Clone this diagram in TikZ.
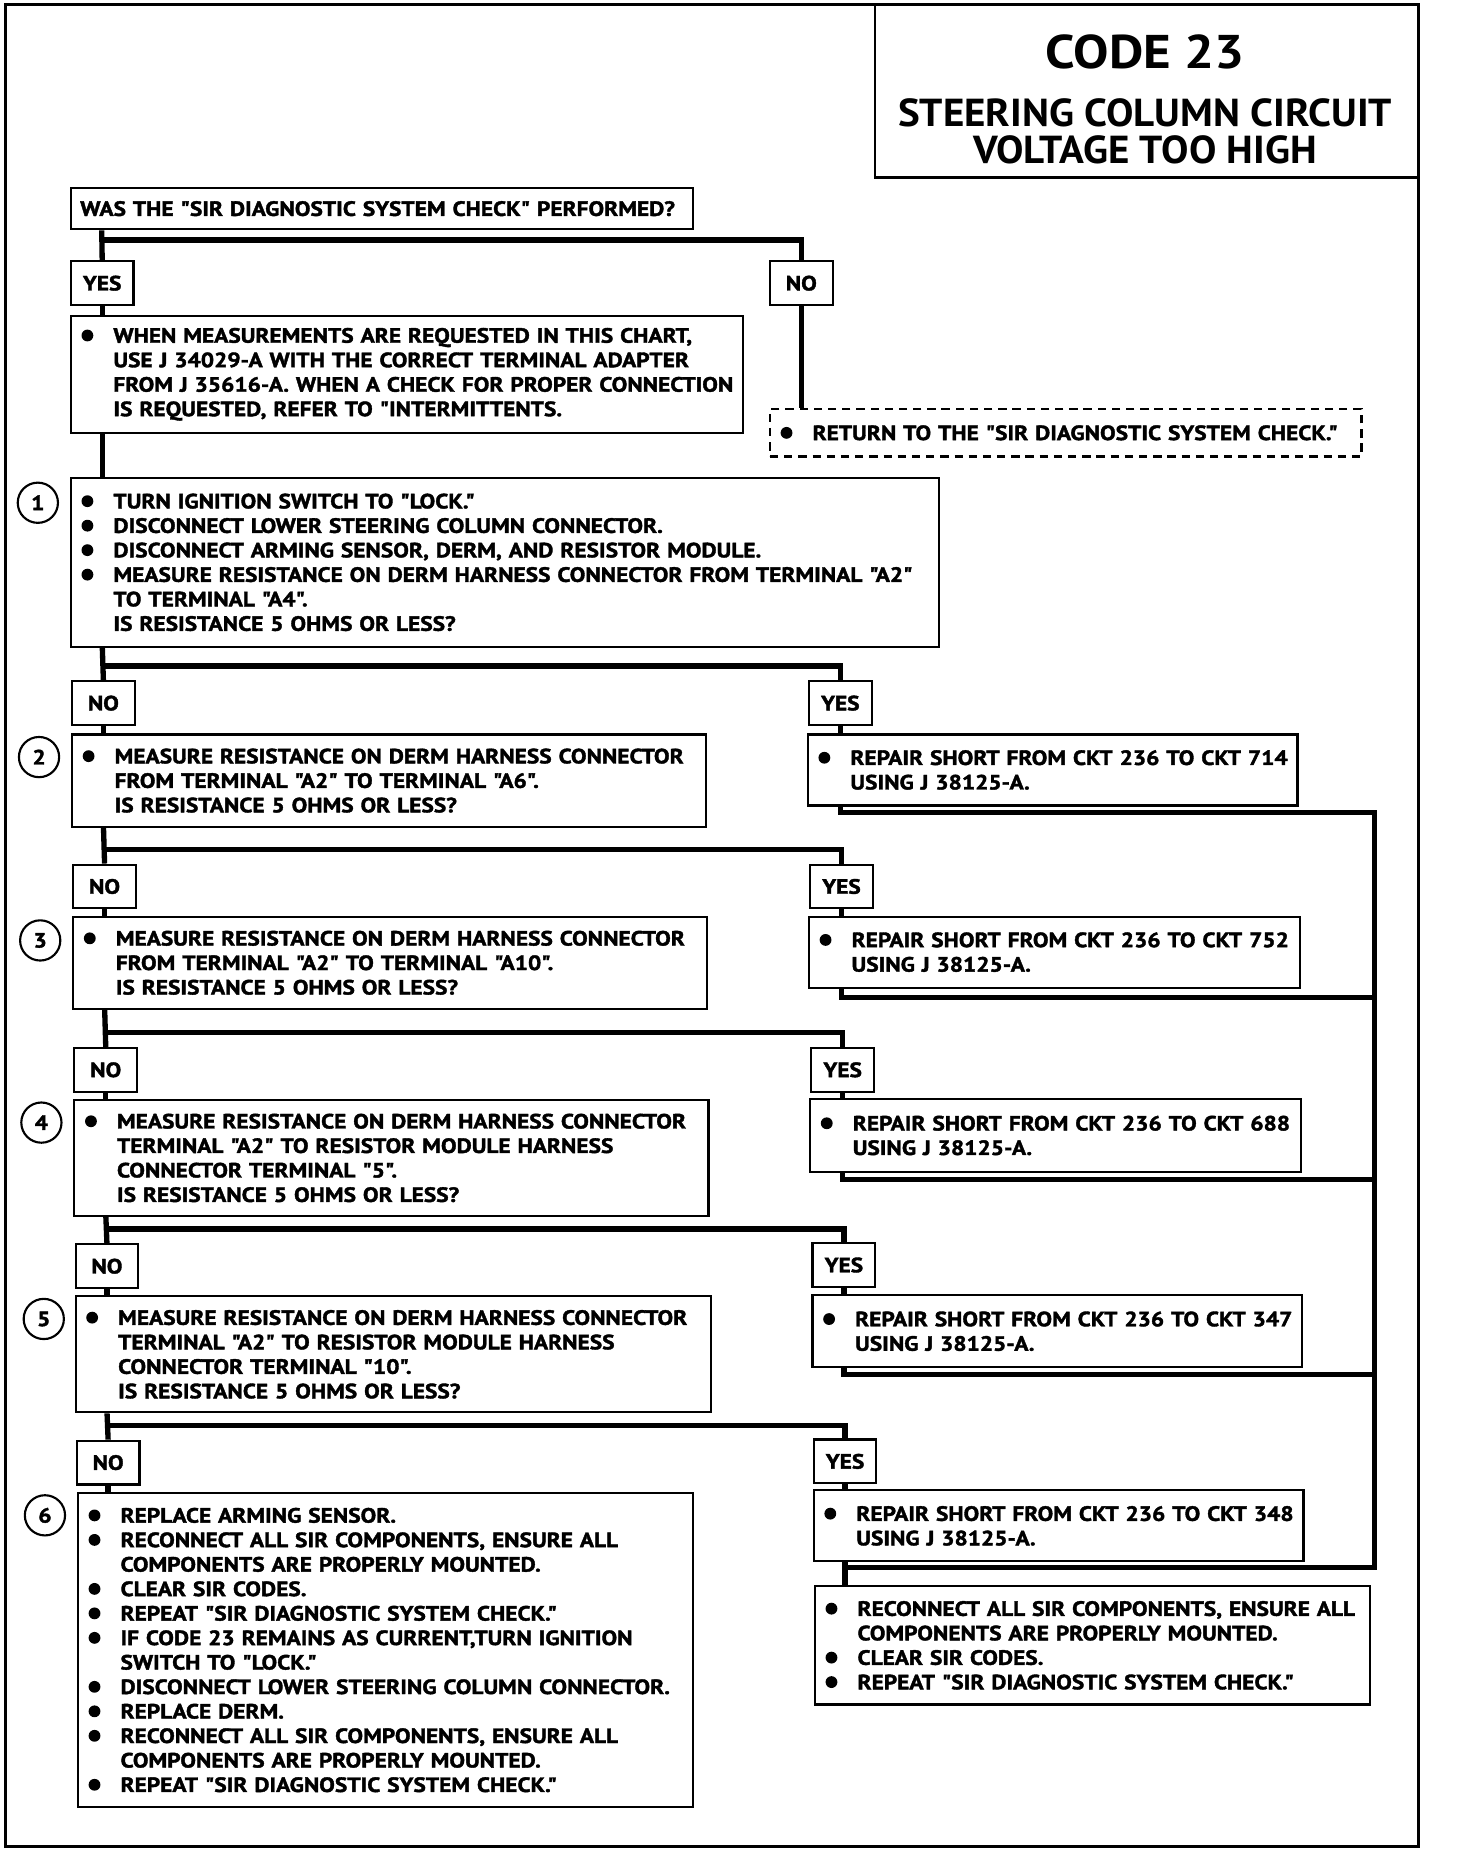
\documentclass[tikz,border=0pt]{standalone}
\usepackage{fontspec}
\setmainfont{PT Sans}
\newfontfamily\chartfamily[FakeStretch=1.13, BoldFeatures={FakeBold=1.8}]{PT Sans}
\newfontfamily\titlefamily[FakeStretch=1.05]{PT Sans}
\newfontfamily\codefamily[FakeStretch=1.12]{PT Sans}
\newcommand{\chartfont}{\chartfamily\fontsize{17.5}{20.7}\selectfont\bfseries}
\newcommand{\dotmark}{\tikz[baseline=0pt]\fill (4.5pt,6.1pt) circle[radius=5pt];}
\newcommand{\itm}[1]{\makebox[27pt][l]{\dotmark}\mbox{#1}}
\newcommand{\cnt}[1]{\hspace*{27pt}\mbox{#1}}
\tikzset{
  chartbox/.style={draw, line width=1.8pt, anchor=north west, inner xsep=9pt, inner ysep=0pt, align=left, font=\chartfont},
  dashbox/.style={chartbox, dash pattern=on 7pt off 5pt},
  answer/.style={draw, line width=1.8pt, anchor=north west, minimum width=53pt, minimum height=37pt, inner sep=0pt, font=\chartfont},
  stepnum/.style={draw, circle, line width=1.8pt, minimum size=34pt, inner sep=0pt, font=\chartfont},
  flow/.style={line width=4.5pt},
}
\begin{document}
\begin{tikzpicture}[x=1pt,y=-1pt]
\useasboundingbox (0,0) rectangle (1231,1569);
% Frame and title
\draw[line width=2.5pt] (5,4) rectangle (1199,1561);
\draw[line width=1.8pt] (740,4) |- (1199,150);
\node[font=\codefamily\fontsize{40}{44}\selectfont\bfseries] (code) at (968,44) {CODE 23};
\node[font=\titlefamily\fontsize{33}{32}\selectfont\bfseries, align=center] (title) at (968,111) {STEERING COLUMN CIRCUIT\\VOLTAGE TOO HIGH};
% Opening question
\node[chartbox, inner xsep=8pt, minimum height=35pt, text width=510pt] (q) at (59,158) {WAS THE "SIR DIAGNOSTIC SYSTEM CHECK" PERFORMED?};
\node[answer] (y0) at (59,220) {YES};
\node[answer] (n0) at (650,220) {NO};
\node[chartbox, minimum height=99pt, text width=550pt] (info) at (59,266) {\itm{WHEN MEASUREMENTS ARE REQUESTED IN THIS CHART,}\\\cnt{USE J 34029-A WITH THE CORRECT TERMINAL ADAPTER}\\\cnt{FROM J 35616-A. WHEN A CHECK FOR PROPER CONNECTION}\\\cnt{IS REQUESTED, REFER TO "INTERMITTENTS.}};
\node[dashbox, minimum height=40pt, text width=482pt] (ret) at (650,345) {\itm{RETURN TO THE "SIR DIAGNOSTIC SYSTEM CHECK."}};
% Step 1
\node[chartbox, minimum height=143pt, text width=716pt] (b1) at (59,403) {\itm{TURN IGNITION SWITCH TO "LOCK."}\\\itm{DISCONNECT LOWER STEERING COLUMN CONNECTOR.}\\\itm{DISCONNECT ARMING SENSOR, DERM, AND RESISTOR MODULE.}\\\itm{MEASURE RESISTANCE ON DERM HARNESS CONNECTOR FROM TERMINAL "A2"}\\\cnt{TO TERMINAL "A4".}\\\cnt{IS RESISTANCE 5 OHMS OR LESS?}};
\node[stepnum] (c1) at (32,425) {1};
\node[answer] (n1) at (60,575) {NO};
\node[answer] (y1) at (683,575) {YES};
% Step 2
\node[chartbox, minimum height=78pt, text width=518pt] (b2) at (60,620) {\itm{MEASURE RESISTANCE ON DERM HARNESS CONNECTOR}\\\cnt{FROM TERMINAL "A2" TO TERMINAL "A6".}\\\cnt{IS RESISTANCE 5 OHMS OR LESS?}};
\node[stepnum] (c2) at (33,640) {2};
\node[chartbox, minimum height=60pt, text width=396pt] (r1) at (682,620) {\itm{REPAIR SHORT FROM CKT 236 TO CKT 714}\\\cnt{USING J 38125-A.}};
\node[answer] (n2) at (61,730) {NO};
\node[answer] (y2) at (684,730) {YES};
% Step 3
\node[chartbox, minimum height=78pt, text width=518pt] (b3) at (61,774) {\itm{MEASURE RESISTANCE ON DERM HARNESS CONNECTOR}\\\cnt{FROM TERMINAL "A2" TO TERMINAL "A10".}\\\cnt{IS RESISTANCE 5 OHMS OR LESS?}};
\node[stepnum] (c3) at (34,795) {3};
\node[chartbox, minimum height=60pt, text width=397pt] (r2) at (683,774) {\itm{REPAIR SHORT FROM CKT 236 TO CKT 752}\\\cnt{USING J 38125-A.}};
\node[answer] (n3) at (62,885) {NO};
\node[answer] (y3) at (685,885) {YES};
% Step 4
\node[chartbox, minimum height=98pt, text width=518pt] (b4) at (62,929) {\itm{MEASURE RESISTANCE ON DERM HARNESS CONNECTOR}\\\cnt{TERMINAL "A2" TO RESISTOR MODULE HARNESS}\\\cnt{CONNECTOR TERMINAL "5".}\\\cnt{IS RESISTANCE 5 OHMS OR LESS?}};
\node[stepnum] (c4) at (35,949) {4};
\node[chartbox, minimum height=62pt, text width=397pt] (r3) at (684,928) {\itm{REPAIR SHORT FROM CKT 236 TO CKT 688}\\\cnt{USING J 38125-A.}};
\node[answer] (n4) at (63,1051) {NO};
\node[answer] (y4) at (686,1050) {YES};
% Step 5
\node[chartbox, minimum height=98pt, text width=519pt] (b5) at (63,1095) {\itm{MEASURE RESISTANCE ON DERM HARNESS CONNECTOR}\\\cnt{TERMINAL "A2" TO RESISTOR MODULE HARNESS}\\\cnt{CONNECTOR TERMINAL "10".}\\\cnt{IS RESISTANCE 5 OHMS OR LESS?}};
\node[stepnum] (c5) at (37,1115) {5};
\node[chartbox, minimum height=61pt, text width=396pt] (r4) at (686,1094) {\itm{REPAIR SHORT FROM CKT 236 TO CKT 347}\\\cnt{USING J 38125-A.}};
\node[answer] (n5) at (64,1217) {NO};
\node[answer] (y5) at (687,1216) {YES};
% Step 6
\node[chartbox, minimum height=266pt, text width=502pt] (b6) at (65,1261) {\itm{REPLACE ARMING SENSOR.}\\\itm{RECONNECT ALL SIR COMPONENTS, ENSURE ALL}\\\cnt{COMPONENTS ARE PROPERLY MOUNTED.}\\\itm{CLEAR SIR CODES.}\\\itm{REPEAT "SIR DIAGNOSTIC SYSTEM CHECK."}\\\itm{IF CODE 23 REMAINS AS CURRENT,TURN IGNITION}\\\cnt{SWITCH TO "LOCK."}\\\itm{DISCONNECT LOWER STEERING COLUMN CONNECTOR.}\\\itm{REPLACE DERM.}\\\itm{RECONNECT ALL SIR COMPONENTS, ENSURE ALL}\\\cnt{COMPONENTS ARE PROPERLY MOUNTED.}\\\itm{REPEAT "SIR DIAGNOSTIC SYSTEM CHECK."}};
\node[stepnum] (c6) at (38,1281) {6};
\node[chartbox, minimum height=60pt, text width=396pt] (r5) at (687,1259) {\itm{REPAIR SHORT FROM CKT 236 TO CKT 348}\\\cnt{USING J 38125-A.}};
\node[chartbox, minimum height=100pt, text width=451pt] (fin) at (688,1340) {\itm{RECONNECT ALL SIR COMPONENTS, ENSURE ALL}\\\cnt{COMPONENTS ARE PROPERLY MOUNTED.}\\\itm{CLEAR SIR CODES.}\\\itm{REPEAT "SIR DIAGNOSTIC SYSTEM CHECK."}};
% Junctions
\coordinate (j0) at (86,203);
\coordinate (j1) at (86.5,563);
\coordinate (j2) at (87.5,718);
\coordinate (j3) at (88.5,873);
\coordinate (j4) at (89.5,1039);
\coordinate (j5) at (90.5,1205);
\coordinate (bus1) at (1162,687);
\coordinate (bus2) at (1162,843);
\coordinate (bus3) at (1162,997);
\coordinate (bus4) at (1162,1162);
\coordinate (bus5) at (1162,1325);
% Flow lines
\draw[flow] (q.south -| j0) -- (y0.north);
\draw[flow] (j0) -| (n0.north);
\draw[flow] (y0.south) -- (info.north -| y0);
\draw[flow] (info.south -| y0) -- (b1.north -| y0);
\draw[flow] (n0.south) -- (ret.north -| n0);
\draw[flow] (b1.south -| j1) -- (n1.north);
\draw[flow] (j1) -| (y1.north);
\draw[flow] (b2.south -| j2) -- (n2.north);
\draw[flow] (j2) -| (y2.north);
\draw[flow] (b3.south -| j3) -- (n3.north);
\draw[flow] (j3) -| (y3.north);
\draw[flow] (b4.south -| j4) -- (n4.north);
\draw[flow] (j4) -| (y4.north);
\draw[flow] (b5.south -| j5) -- (n5.north);
\draw[flow] (j5) -| (y5.north);
\foreach \k in {1,...,5} {
  \draw[flow] (n\k.south) -- (b\the\numexpr\k+1\relax.north -| n\k);
  \draw[flow] (y\k.south) -- (r\k.north -| y\k);
}
% Repair collector
\draw[flow] (r1.south -| y1) |- (bus1) -- (bus5) -| (fin.north -| y5);
\foreach \k in {2,...,5} {
  \draw[flow] (r\k.south -| y\k) |- (bus\k);
}
\end{tikzpicture}
\end{document}
